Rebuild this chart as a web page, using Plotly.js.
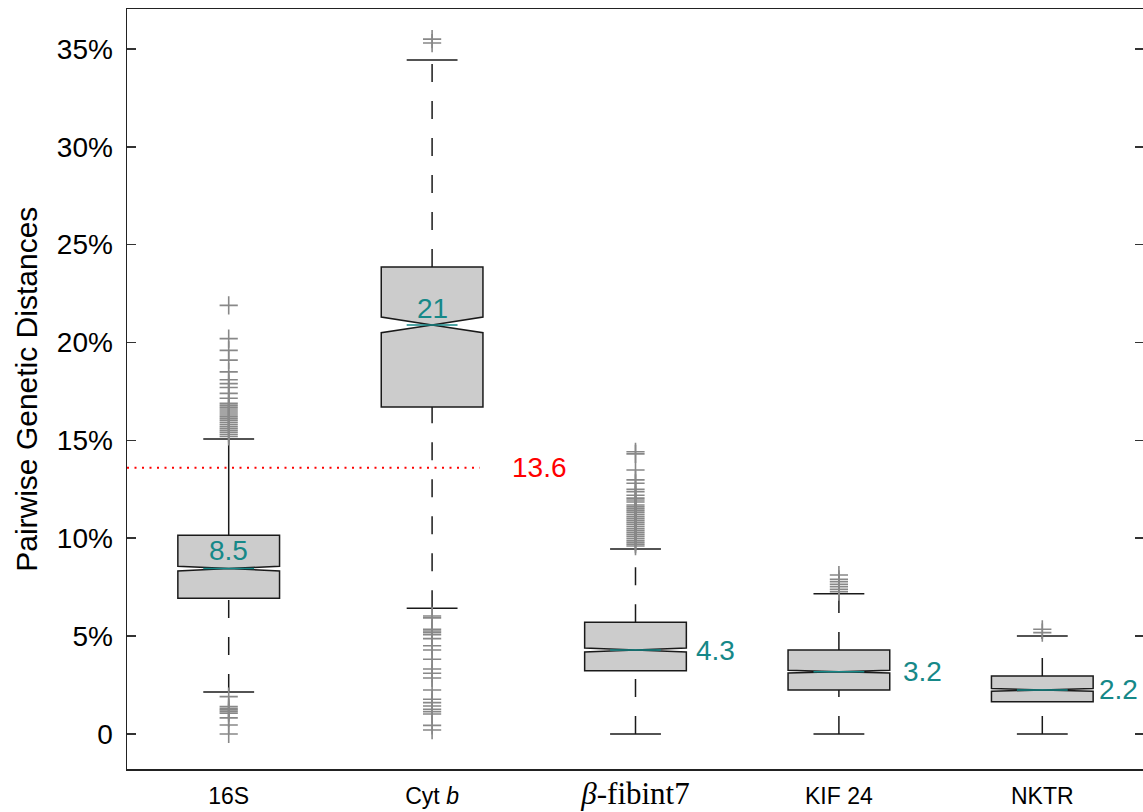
<!DOCTYPE html>
<html>
<head>
<meta charset="utf-8">
<script src="https://cdn.plot.ly/plotly-3.0.1.min.js"></script>
<style>
  html, body { margin: 0; padding: 0; overflow: hidden; background: #fff; }
  #chart { width: 1146px; height: 812px; }
</style>
</head>
<body>
<div id="chart"></div>
<script>
// ---------- data (percent) ----------
const categories = ['16S', 'Cyt b', 'β-fibint7', 'KIF 24', 'NKTR'];
const tickLabels = ['16S', 'Cyt <i>b</i>',
  '<span style="font-family:\'Liberation Serif\', serif; font-size:31px"><i>β</i>-fibint7</span>',
  'KIF 24', 'NKTR'];
const q1Values      = [6.93, 16.71, 3.23, 2.25, 1.64];
const medianValues  = [8.45, 20.90, 4.29, 3.18, 2.25];
const q3Values      = [10.15, 23.86, 5.71, 4.29, 2.96];
const lowerWhisker  = [2.15, 6.42, 0.00, 0.00, 0.00];
const upperWhisker  = [15.07, 34.44, 9.45, 7.17, 5.00];
const notchSpans    = [0.12, 0.40, 0.10, 0.07, 0.07];
const medianLabels  = ['8.5', '21', '4.3', '3.2', '2.2'];

const outliers16S = [21.9, 20.2, 19.6, 19.1, 18.5, 18.1, 17.9, 17.7, 17.4, 17.15, 16.9, 16.8, 16.7,
  16.6, 16.5, 16.4, 16.3, 16.2, 16.1, 16.0, 15.9, 15.8, 15.7, 15.6, 15.5, 15.4, 15.3, 15.2,
  1.91, 1.40, 1.31, 1.23, 1.14, 1.06, 0.82, 0.46, 0.0];
const outliersCytb = [35.5, 35.3, 6.03, 5.93, 5.35, 5.26, 5.18, 5.07, 4.87, 4.51, 4.29, 3.82, 3.32,
  3.10, 2.86, 2.25, 1.77, 1.60, 1.43, 1.26, 1.14, 1.02, 0.44, 0.20];
const outliersBfib = [14.42, 14.31, 13.49, 12.98, 12.81, 12.50, 12.38, 12.2, 12.05, 11.95, 11.85,
  11.7, 11.6, 11.5, 11.4, 11.3, 11.2, 11.1, 11.0, 10.9, 10.8, 10.7, 10.6, 10.5, 10.4, 10.3,
  10.2, 10.1, 10.0, 9.9, 9.8, 9.7, 9.6];
const outliersKIF = [8.12, 7.90, 7.78, 7.65, 7.53, 7.39, 7.27];
const outliersNKTR = [5.35, 5.18];
const outlierSets = [outliers16S, outliersCytb, outliersBfib, outliersKIF, outliersNKTR];

const threshold = 13.6;
const thresholdLabel = '13.6';
const yTickValues = [0, 5, 10, 15, 20, 25, 30, 35];
const yTickLabels = ['0', '5%', '10%', '15%', '20%', '25%', '30%', '35%'];
const yTitle = 'Pairwise Genetic Distances';

// ---------- styles ----------
const TEAL = '#168888';
const BOXLINE = '#1a1a1a';
const idx = categories.map((_, i) => i);
const halfBox = 0.25;        // box width 0.5
const notchTip = 0.125;      // (1 - notchwidth) * halfBox
const capHalf = 0.125;
const upperSolid = [true, false, false, false, false];
const labelPlace = [
  {dx: 0, xa: 'center', xs: 0, ys: 18},
  {dx: 0, xa: 'center', xs: 0, ys: 16},
  {dx: halfBox, xa: 'left', xs: 8, ys: 0},
  {dx: halfBox, xa: 'left', xs: 11, ys: 0},
  {dx: halfBox, xa: 'left', xs: 4, ys: 0}
];

const traces = [];

// boxes (whiskers drawn separately so they can be dashed)
traces.push({
  type: 'box', x: idx, q1: q1Values, median: medianValues, q3: q3Values,
  lowerfence: q1Values, upperfence: q3Values, notchspan: notchSpans,
  notched: true, notchwidth: 0.5, width: 2 * halfBox, whiskerwidth: 0,
  fillcolor: '#cccccc', line: {color: BOXLINE, width: 1.5},
  boxpoints: false, hoverinfo: 'skip', showlegend: false
});

// whiskers
function seg(list) {
  const xs = [], ys = [];
  list.forEach(s => { xs.push(s[0], s[1], null); ys.push(s[2], s[3], null); });
  return {xs, ys};
}
const dashedSegs = [], solidSegs = [], capSegs = [];
idx.forEach(i => {
  dashedSegs.push([i, i, lowerWhisker[i], q1Values[i]]);
  (upperSolid[i] ? solidSegs : dashedSegs).push([i, i, q3Values[i], upperWhisker[i]]);
  capSegs.push([i - capHalf, i + capHalf, lowerWhisker[i], lowerWhisker[i]]);
  capSegs.push([i - capHalf, i + capHalf, upperWhisker[i], upperWhisker[i]]);
});
[[dashedSegs, '18px,19px'], [solidSegs, 'solid'], [capSegs, 'solid']].forEach(([list, dash]) => {
  const s = seg(list);
  traces.push({type: 'scatter', mode: 'lines', x: s.xs, y: s.ys, connectgaps: false,
    line: {color: BOXLINE, width: 1.5, dash: dash}, hoverinfo: 'skip', showlegend: false});
});

// outliers
const ox = [], oy = [];
outlierSets.forEach((arr, i) => arr.forEach(v => { ox.push(i); oy.push(v); }));
traces.push({type: 'scatter', mode: 'markers', x: ox, y: oy,
  marker: {symbol: 'cross-thin-open', size: 13, color: '#888888', line: {color: '#888888', width: 1.6}},
  hoverinfo: 'skip', showlegend: false});

// teal median lines
const ms = seg(idx.map(i => [i - notchTip, i + notchTip, medianValues[i], medianValues[i]]));
traces.push({type: 'scatter', mode: 'lines', x: ms.xs, y: ms.ys,
  line: {color: TEAL, width: 1.5}, hoverinfo: 'skip', showlegend: false});

// threshold line
traces.push({type: 'scatter', mode: 'lines', x: [-0.5, 1.235], y: [threshold, threshold],
  line: {color: '#ff0000', width: 2, dash: '2px,5.5px'}, hoverinfo: 'skip', showlegend: false});

const annotations = idx.map(i => ({
  x: i + labelPlace[i].dx, y: medianValues[i], xref: 'x', yref: 'y',
  text: medianLabels[i], showarrow: false, xanchor: labelPlace[i].xa, yanchor: 'middle',
  xshift: labelPlace[i].xs, yshift: labelPlace[i].ys,
  font: {family: 'Liberation Sans, Arial, sans-serif', size: 28, color: TEAL}
}));
annotations.push({x: 1.53, y: threshold, xref: 'x', yref: 'y', text: thresholdLabel,
  showarrow: false, xanchor: 'center', yanchor: 'middle',
  font: {family: 'Liberation Sans, Arial, sans-serif', size: 28, color: '#ff0000'}});
annotations.push({x: -0.0995, y: 0.5, xref: 'paper', yref: 'paper', text: yTitle,
  textangle: -90, showarrow: false, xanchor: 'center', yanchor: 'middle',
  font: {family: 'Liberation Sans Narrow, Liberation Sans, Arial, sans-serif', size: 30, color: '#000'}});

const layout = {
  width: 1146, height: 812,
  margin: {l: 127, r: 2, t: 9, b: 43},
  paper_bgcolor: '#fff', plot_bgcolor: '#fff',
  showlegend: false,
  xaxis: {
    range: [-0.5, 4.5], tickmode: 'array', tickvals: idx, ticktext: tickLabels,
    ticks: '', showline: true, linecolor: '#222', linewidth: 1.5, mirror: true,
    showgrid: false, zeroline: false, ticklabelstandoff: 6,
    tickfont: {family: 'Liberation Sans, Arial, sans-serif', size: 23, color: '#000'}
  },
  yaxis: {
    range: [-1.79, 37.04], tickmode: 'array', tickvals: yTickValues, ticktext: yTickLabels,
    ticks: 'inside', ticklen: 9, tickwidth: 1.5, tickcolor: '#333',
    showline: true, linecolor: '#222', linewidth: 1.5, mirror: 'ticks',
    showgrid: false, zeroline: false, ticklabelstandoff: 7,
    tickfont: {family: 'Liberation Sans, Arial, sans-serif', size: 28, color: '#000'}
  },
  annotations: annotations
};

Plotly.newPlot('chart', traces, layout, {displayModeBar: false, staticPlot: true});
</script>
</body>
</html>
